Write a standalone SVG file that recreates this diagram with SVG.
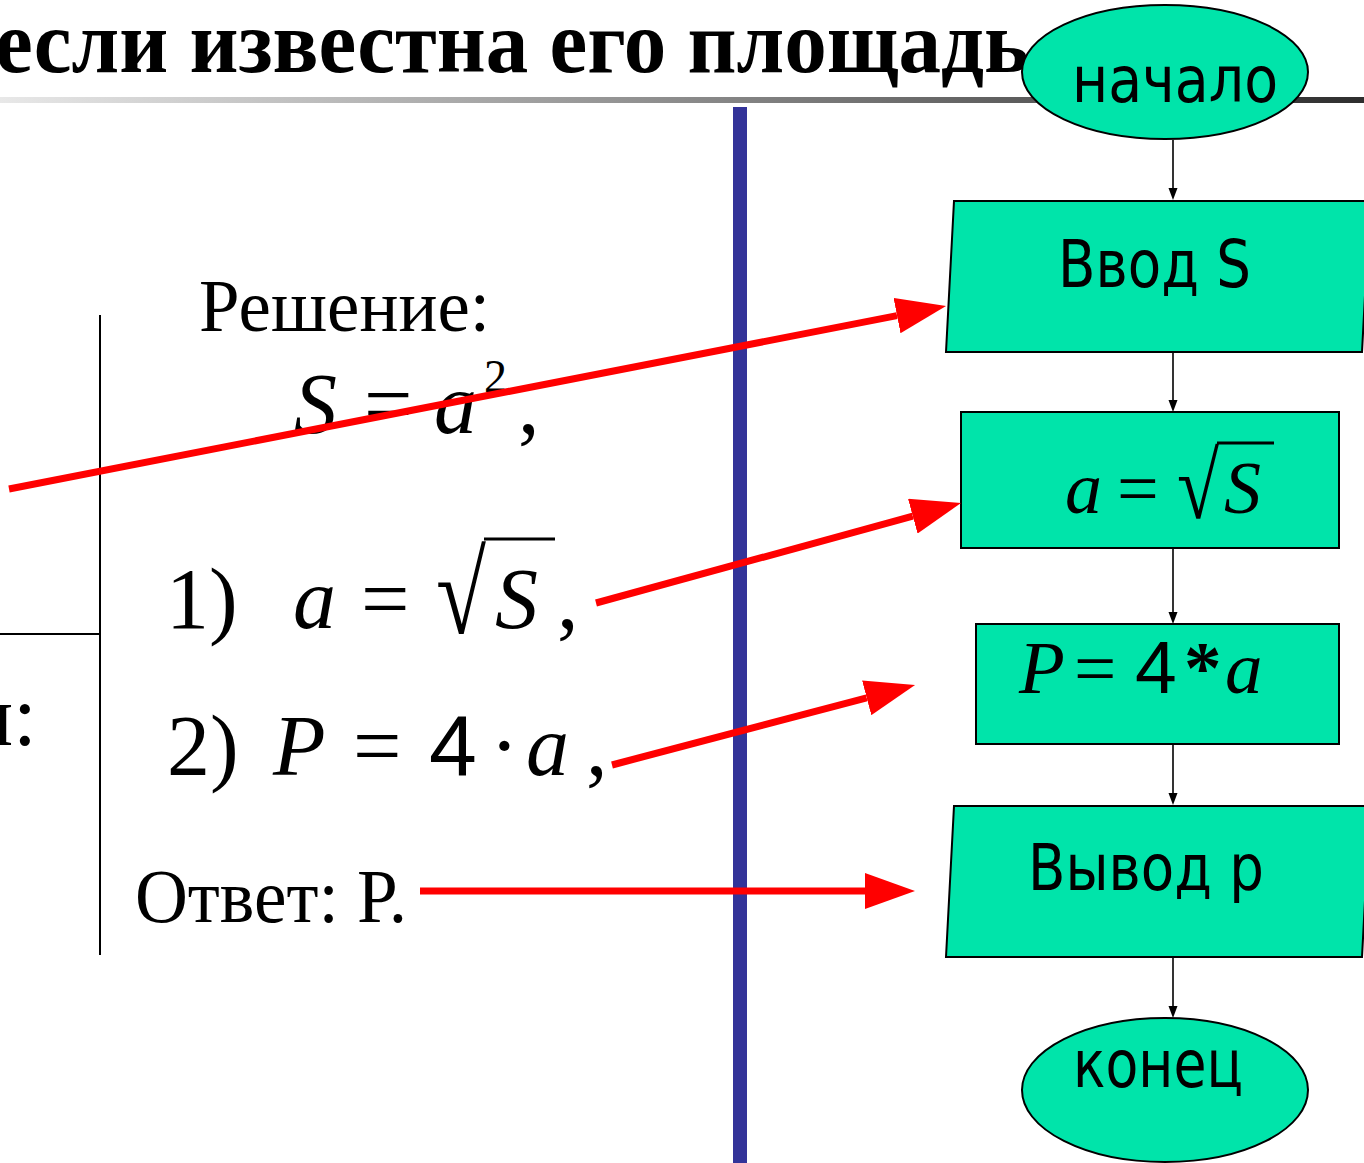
<svg xmlns="http://www.w3.org/2000/svg" width="1364" height="1163" viewBox="0 0 1364 1163">
<style>
.node{fill:#00E4AA;stroke:#000;stroke-width:2}
.lbl{font-family:"DejaVu Sans","Noto Sans",sans-serif;fill:#000}
.ser{font-family:"Liberation Serif","Times New Roman",serif;fill:#000}
.it{font-style:italic}
.san{font-family:"Liberation Sans",Arial,sans-serif;fill:#000}
.red{stroke:#FF0000;stroke-width:7;fill:none}
.blk{stroke:#000;stroke-width:1.6;fill:none}
</style>
<defs>
<linearGradient id="gl" x1="0" y1="0" x2="1" y2="0">
<stop offset="0" stop-color="#e8e8e8"/>
<stop offset="1" stop-color="#2e2e2e"/>
</linearGradient>
<marker id="ra" viewBox="0 -18 50 36" markerWidth="50" markerHeight="36" refX="0" refY="0" markerUnits="userSpaceOnUse" orient="auto">
<path d="M0,-18 L50,0 L0,18 z" fill="#FF0000"/>
</marker>
<marker id="ba" viewBox="0 -5 12 10" markerWidth="12" markerHeight="10" refX="0" refY="0" markerUnits="userSpaceOnUse" orient="auto">
<path d="M0,-4.5 L12,0 L0,4.5 z" fill="#000"/>
</marker>
</defs>
<rect width="1364" height="1163" fill="#fff"/>
<g id="title">
<text class="ser" x="-5" y="72" font-size="88" font-weight="bold" textLength="1034" lengthAdjust="spacingAndGlyphs">если известна его площадь</text>
<rect x="0" y="97" width="1364" height="6" fill="url(#gl)"/>
</g>
<g id="blue-divider">
<rect x="733" y="107" width="14" height="1056" fill="#333399"/>
</g>
<g id="table-lines">
<line x1="100" y1="315" x2="100" y2="955" stroke="#000" stroke-width="2"/>
<line x1="0" y1="634" x2="100" y2="634" stroke="#000" stroke-width="2"/>
</g>
<g id="left-text">
<text class="ser" x="37" y="745" font-size="86" text-anchor="end">и:</text>
<text class="ser" x="199" y="331" font-size="75" textLength="291" lengthAdjust="spacingAndGlyphs">Решение:</text>
<g id="eq0">
<text class="ser it" x="294" y="433" font-size="86">S</text>
<text class="ser" x="364" y="433" font-size="86">=</text>
<text class="ser it" x="434" y="433" font-size="86">a</text>
<text class="ser" x="484" y="392" font-size="46">2</text>
<text class="ser" x="518" y="433" font-size="86">,</text>
</g>
<g id="eq1">
<text class="ser" x="166" y="628" font-size="86">1)</text>
<text class="ser it" x="293" y="628" font-size="86">a</text>
<text class="ser" x="361" y="628" font-size="86">=</text>
<text class="ser" x="436" y="633" font-size="116" textLength="50" lengthAdjust="spacingAndGlyphs">√</text>
<line x1="484" y1="539" x2="555" y2="539" stroke="#000" stroke-width="3"/>
<text class="ser it" x="495" y="628" font-size="86">S</text>
<text class="ser" x="557" y="628" font-size="86">,</text>
</g>
<g id="eq2">
<text class="ser" x="167" y="775" font-size="86">2)</text>
<text class="ser it" x="273" y="775" font-size="86">P</text>
<text class="ser" x="353" y="775" font-size="86">=</text>
<text class="san" x="429" y="775" font-size="86">4</text>
<text class="ser" x="490" y="775" font-size="86">·</text>
<text class="ser it" x="526" y="775" font-size="86">a</text>
<text class="ser" x="586" y="775" font-size="86">,</text>
</g>
<text class="ser" x="135" y="922" font-size="77" textLength="272" lengthAdjust="spacingAndGlyphs">Ответ: Р.</text>
</g>
<g id="node-start">
<ellipse class="node" cx="1165" cy="72" rx="143" ry="67"/>
<text class="lbl" x="1072" y="102" font-size="64" textLength="206" lengthAdjust="spacingAndGlyphs">начало</text>
</g>
<g id="node-input">
<polygon class="node" points="954,201 1370,201 1362,352 946,352"/>
<text class="lbl" x="1058" y="287" font-size="66" textLength="193" lengthAdjust="spacingAndGlyphs">Ввод S</text>
</g>
<g id="node-sqrt">
<rect class="node" x="961" y="412" width="378" height="136"/>
<text class="ser it" x="1065" y="513" font-size="74">a</text>
<text class="ser" x="1117" y="513" font-size="74">=</text>
<text class="ser" x="1177" y="518" font-size="94" textLength="42" lengthAdjust="spacingAndGlyphs">√</text>
<line x1="1217" y1="443" x2="1274" y2="443" stroke="#000" stroke-width="3"/>
<text class="ser it" x="1224" y="513" font-size="74">S</text>
</g>
<g id="node-perim">
<rect class="node" x="976" y="624" width="363" height="120"/>
<text class="ser it" x="1019" y="693" font-size="75">P</text>
<text class="ser" x="1074" y="693" font-size="75">=</text>
<text class="san" x="1135" y="693" font-size="75">4</text>
<text class="ser" x="1184" y="693" font-size="75" font-weight="bold">*</text>
<text class="ser it" x="1225" y="693" font-size="75">a</text>
</g>
<g id="node-output">
<polygon class="node" points="954,806 1370,806 1362,957 946,957"/>
<text class="lbl" x="1028" y="890" font-size="64" textLength="236" lengthAdjust="spacingAndGlyphs">Вывод p</text>
</g>
<g id="node-end">
<ellipse class="node" cx="1165" cy="1090" rx="143" ry="72"/>
<text class="lbl" x="1073" y="1087" font-size="66" textLength="170" lengthAdjust="spacingAndGlyphs">конец</text>
</g>
<g id="connectors">
<line class="blk" x1="1173" y1="140" x2="1173" y2="188" marker-end="url(#ba)"/>
<line class="blk" x1="1173" y1="353" x2="1173" y2="400" marker-end="url(#ba)"/>
<line class="blk" x1="1173" y1="549" x2="1173" y2="612" marker-end="url(#ba)"/>
<line class="blk" x1="1173" y1="745" x2="1173" y2="793" marker-end="url(#ba)"/>
<line class="blk" x1="1173" y1="958" x2="1173" y2="1006" marker-end="url(#ba)"/>
<line class="red" x1="9" y1="489" x2="897" y2="315.6" marker-end="url(#ra)"/>
<line class="red" x1="596" y1="603" x2="912.8" y2="516.2" marker-end="url(#ra)"/>
<line class="red" x1="612" y1="765" x2="866.7" y2="697.8" marker-end="url(#ra)"/>
<line class="red" x1="420" y1="891" x2="865" y2="891" marker-end="url(#ra)"/>
</g>
</svg>
